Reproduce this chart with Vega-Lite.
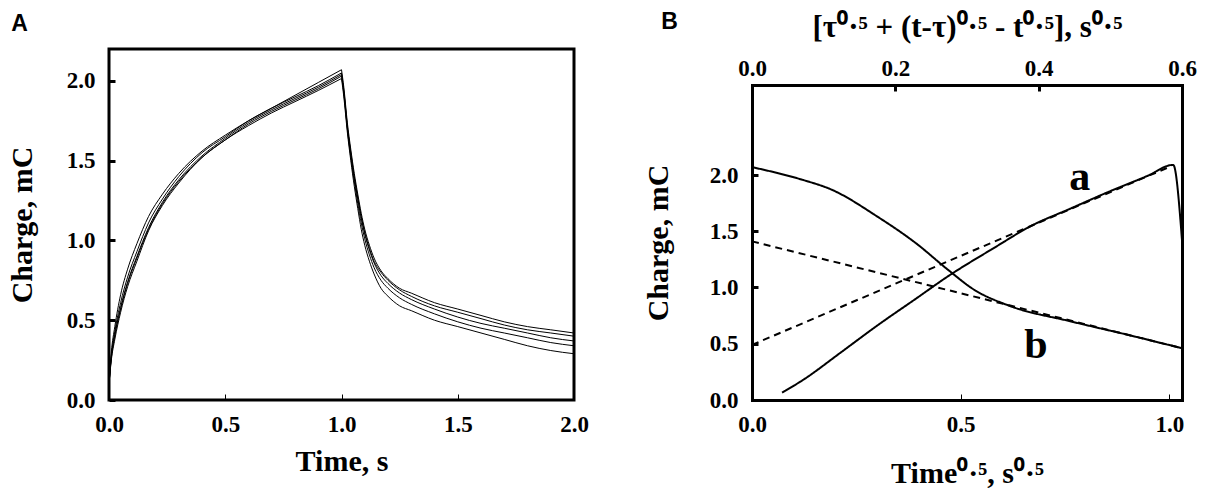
{
  "$schema": "https://vega.github.io/schema/vega-lite/v6.json",
  "background": "white",
  "padding": {"left": 5, "top": 11, "right": 5, "bottom": 5},
  "datasets": {
    "panelA": [
      {"t": 0, "q": 0.1, "run": 1, "ph": "up"}, {"t": 0.01, "q": 0.3, "run": 1, "ph": "up"}, {"t": 0.025, "q": 0.46, "run": 1, "ph": "up"},
      {"t": 0.05, "q": 0.66, "run": 1, "ph": "up"}, {"t": 0.08, "q": 0.82, "run": 1, "ph": "up"}, {"t": 0.12, "q": 0.98, "run": 1, "ph": "up"},
      {"t": 0.17, "q": 1.15, "run": 1, "ph": "up"}, {"t": 0.23, "q": 1.29, "run": 1, "ph": "up"}, {"t": 0.3, "q": 1.42, "run": 1, "ph": "up"},
      {"t": 0.4, "q": 1.56, "run": 1, "ph": "up"}, {"t": 0.5, "q": 1.66, "run": 1, "ph": "up"}, {"t": 0.6, "q": 1.75, "run": 1, "ph": "up"},
      {"t": 0.7, "q": 1.83, "run": 1, "ph": "up"}, {"t": 0.8, "q": 1.91, "run": 1, "ph": "up"}, {"t": 0.9, "q": 1.99, "run": 1, "ph": "up"},
      {"t": 1, "q": 2.07, "run": 1, "ph": "up"},
      {"t": 1, "q": 2.07, "run": 1, "ph": "dn"}, {"t": 1.01, "q": 1.96, "run": 1, "ph": "dn"}, {"t": 1.025, "q": 1.74, "run": 1, "ph": "dn"},
      {"t": 1.04, "q": 1.57, "run": 1, "ph": "dn"}, {"t": 1.055, "q": 1.42, "run": 1, "ph": "dn"}, {"t": 1.07, "q": 1.29, "run": 1, "ph": "dn"},
      {"t": 1.085, "q": 1.17, "run": 1, "ph": "dn"}, {"t": 1.1, "q": 1.07, "run": 1, "ph": "dn"}, {"t": 1.12, "q": 0.97, "run": 1, "ph": "dn"},
      {"t": 1.14, "q": 0.89, "run": 1, "ph": "dn"}, {"t": 1.17, "q": 0.81, "run": 1, "ph": "dn"}, {"t": 1.2, "q": 0.76, "run": 1, "ph": "dn"},
      {"t": 1.25, "q": 0.7, "run": 1, "ph": "dn"}, {"t": 1.3, "q": 0.67, "run": 1, "ph": "dn"}, {"t": 1.4, "q": 0.61, "run": 1, "ph": "dn"},
      {"t": 1.5, "q": 0.57, "run": 1, "ph": "dn"}, {"t": 1.6, "q": 0.53, "run": 1, "ph": "dn"}, {"t": 1.7, "q": 0.49, "run": 1, "ph": "dn"},
      {"t": 1.8, "q": 0.46, "run": 1, "ph": "dn"}, {"t": 1.9, "q": 0.44, "run": 1, "ph": "dn"}, {"t": 2, "q": 0.42, "run": 1, "ph": "dn"},

      {"t": 0, "q": 0.1, "run": 2, "ph": "up"}, {"t": 0.01, "q": 0.28, "run": 2, "ph": "up"}, {"t": 0.025, "q": 0.43, "run": 2, "ph": "up"},
      {"t": 0.05, "q": 0.61, "run": 2, "ph": "up"}, {"t": 0.08, "q": 0.77, "run": 2, "ph": "up"}, {"t": 0.12, "q": 0.93, "run": 2, "ph": "up"},
      {"t": 0.17, "q": 1.11, "run": 2, "ph": "up"}, {"t": 0.23, "q": 1.26, "run": 2, "ph": "up"}, {"t": 0.3, "q": 1.4, "run": 2, "ph": "up"},
      {"t": 0.4, "q": 1.55, "run": 2, "ph": "up"}, {"t": 0.5, "q": 1.65, "run": 2, "ph": "up"}, {"t": 0.6, "q": 1.75, "run": 2, "ph": "up"},
      {"t": 0.7, "q": 1.83, "run": 2, "ph": "up"}, {"t": 0.8, "q": 1.9, "run": 2, "ph": "up"}, {"t": 0.9, "q": 1.97, "run": 2, "ph": "up"},
      {"t": 1, "q": 2.05, "run": 2, "ph": "up"},
      {"t": 1, "q": 2.05, "run": 2, "ph": "dn"}, {"t": 1.01, "q": 1.94, "run": 2, "ph": "dn"}, {"t": 1.025, "q": 1.72, "run": 2, "ph": "dn"},
      {"t": 1.04, "q": 1.55, "run": 2, "ph": "dn"}, {"t": 1.055, "q": 1.4, "run": 2, "ph": "dn"}, {"t": 1.07, "q": 1.27, "run": 2, "ph": "dn"},
      {"t": 1.085, "q": 1.15, "run": 2, "ph": "dn"}, {"t": 1.1, "q": 1.05, "run": 2, "ph": "dn"}, {"t": 1.12, "q": 0.95, "run": 2, "ph": "dn"},
      {"t": 1.14, "q": 0.87, "run": 2, "ph": "dn"}, {"t": 1.17, "q": 0.8, "run": 2, "ph": "dn"}, {"t": 1.2, "q": 0.75, "run": 2, "ph": "dn"},
      {"t": 1.25, "q": 0.69, "run": 2, "ph": "dn"}, {"t": 1.3, "q": 0.65, "run": 2, "ph": "dn"}, {"t": 1.4, "q": 0.59, "run": 2, "ph": "dn"},
      {"t": 1.5, "q": 0.55, "run": 2, "ph": "dn"}, {"t": 1.6, "q": 0.51, "run": 2, "ph": "dn"}, {"t": 1.7, "q": 0.47, "run": 2, "ph": "dn"},
      {"t": 1.8, "q": 0.44, "run": 2, "ph": "dn"}, {"t": 1.9, "q": 0.42, "run": 2, "ph": "dn"}, {"t": 2, "q": 0.4, "run": 2, "ph": "dn"},

      {"t": 0, "q": 0.1, "run": 3, "ph": "up"}, {"t": 0.01, "q": 0.27, "run": 3, "ph": "up"}, {"t": 0.025, "q": 0.41, "run": 3, "ph": "up"},
      {"t": 0.05, "q": 0.58, "run": 3, "ph": "up"}, {"t": 0.08, "q": 0.74, "run": 3, "ph": "up"}, {"t": 0.12, "q": 0.9, "run": 3, "ph": "up"},
      {"t": 0.17, "q": 1.08, "run": 3, "ph": "up"}, {"t": 0.23, "q": 1.24, "run": 3, "ph": "up"}, {"t": 0.3, "q": 1.38, "run": 3, "ph": "up"},
      {"t": 0.4, "q": 1.53, "run": 3, "ph": "up"}, {"t": 0.5, "q": 1.64, "run": 3, "ph": "up"}, {"t": 0.6, "q": 1.74, "run": 3, "ph": "up"},
      {"t": 0.7, "q": 1.82, "run": 3, "ph": "up"}, {"t": 0.8, "q": 1.89, "run": 3, "ph": "up"}, {"t": 0.9, "q": 1.96, "run": 3, "ph": "up"},
      {"t": 1, "q": 2.04, "run": 3, "ph": "up"},
      {"t": 1, "q": 2.04, "run": 3, "ph": "dn"}, {"t": 1.01, "q": 1.93, "run": 3, "ph": "dn"}, {"t": 1.025, "q": 1.71, "run": 3, "ph": "dn"},
      {"t": 1.04, "q": 1.54, "run": 3, "ph": "dn"}, {"t": 1.055, "q": 1.39, "run": 3, "ph": "dn"}, {"t": 1.07, "q": 1.26, "run": 3, "ph": "dn"},
      {"t": 1.085, "q": 1.14, "run": 3, "ph": "dn"}, {"t": 1.1, "q": 1.04, "run": 3, "ph": "dn"}, {"t": 1.12, "q": 0.94, "run": 3, "ph": "dn"},
      {"t": 1.14, "q": 0.86, "run": 3, "ph": "dn"}, {"t": 1.17, "q": 0.78, "run": 3, "ph": "dn"}, {"t": 1.2, "q": 0.73, "run": 3, "ph": "dn"},
      {"t": 1.25, "q": 0.67, "run": 3, "ph": "dn"}, {"t": 1.3, "q": 0.63, "run": 3, "ph": "dn"}, {"t": 1.4, "q": 0.57, "run": 3, "ph": "dn"},
      {"t": 1.5, "q": 0.52, "run": 3, "ph": "dn"}, {"t": 1.6, "q": 0.48, "run": 3, "ph": "dn"}, {"t": 1.7, "q": 0.45, "run": 3, "ph": "dn"},
      {"t": 1.8, "q": 0.42, "run": 3, "ph": "dn"}, {"t": 1.9, "q": 0.39, "run": 3, "ph": "dn"}, {"t": 2, "q": 0.37, "run": 3, "ph": "dn"},

      {"t": 0, "q": 0.1, "run": 4, "ph": "up"}, {"t": 0.01, "q": 0.26, "run": 4, "ph": "up"}, {"t": 0.025, "q": 0.4, "run": 4, "ph": "up"},
      {"t": 0.05, "q": 0.57, "run": 4, "ph": "up"}, {"t": 0.08, "q": 0.73, "run": 4, "ph": "up"}, {"t": 0.12, "q": 0.89, "run": 4, "ph": "up"},
      {"t": 0.17, "q": 1.07, "run": 4, "ph": "up"}, {"t": 0.23, "q": 1.23, "run": 4, "ph": "up"}, {"t": 0.3, "q": 1.37, "run": 4, "ph": "up"},
      {"t": 0.4, "q": 1.52, "run": 4, "ph": "up"}, {"t": 0.5, "q": 1.63, "run": 4, "ph": "up"}, {"t": 0.6, "q": 1.73, "run": 4, "ph": "up"},
      {"t": 0.7, "q": 1.81, "run": 4, "ph": "up"}, {"t": 0.8, "q": 1.88, "run": 4, "ph": "up"}, {"t": 0.9, "q": 1.95, "run": 4, "ph": "up"},
      {"t": 1, "q": 2.03, "run": 4, "ph": "up"},
      {"t": 1, "q": 2.03, "run": 4, "ph": "dn"}, {"t": 1.01, "q": 1.92, "run": 4, "ph": "dn"}, {"t": 1.025, "q": 1.7, "run": 4, "ph": "dn"},
      {"t": 1.04, "q": 1.52, "run": 4, "ph": "dn"}, {"t": 1.055, "q": 1.37, "run": 4, "ph": "dn"}, {"t": 1.07, "q": 1.23, "run": 4, "ph": "dn"},
      {"t": 1.085, "q": 1.11, "run": 4, "ph": "dn"}, {"t": 1.1, "q": 1.01, "run": 4, "ph": "dn"}, {"t": 1.12, "q": 0.91, "run": 4, "ph": "dn"},
      {"t": 1.14, "q": 0.83, "run": 4, "ph": "dn"}, {"t": 1.17, "q": 0.75, "run": 4, "ph": "dn"}, {"t": 1.2, "q": 0.7, "run": 4, "ph": "dn"},
      {"t": 1.25, "q": 0.64, "run": 4, "ph": "dn"}, {"t": 1.3, "q": 0.6, "run": 4, "ph": "dn"}, {"t": 1.4, "q": 0.54, "run": 4, "ph": "dn"},
      {"t": 1.5, "q": 0.49, "run": 4, "ph": "dn"}, {"t": 1.6, "q": 0.45, "run": 4, "ph": "dn"}, {"t": 1.7, "q": 0.42, "run": 4, "ph": "dn"},
      {"t": 1.8, "q": 0.39, "run": 4, "ph": "dn"}, {"t": 1.9, "q": 0.36, "run": 4, "ph": "dn"}, {"t": 2, "q": 0.34, "run": 4, "ph": "dn"},

      {"t": 0, "q": 0.1, "run": 5, "ph": "up"}, {"t": 0.01, "q": 0.25, "run": 5, "ph": "up"}, {"t": 0.025, "q": 0.38, "run": 5, "ph": "up"},
      {"t": 0.05, "q": 0.55, "run": 5, "ph": "up"}, {"t": 0.08, "q": 0.71, "run": 5, "ph": "up"}, {"t": 0.12, "q": 0.87, "run": 5, "ph": "up"},
      {"t": 0.17, "q": 1.06, "run": 5, "ph": "up"}, {"t": 0.23, "q": 1.22, "run": 5, "ph": "up"}, {"t": 0.3, "q": 1.36, "run": 5, "ph": "up"},
      {"t": 0.4, "q": 1.52, "run": 5, "ph": "up"}, {"t": 0.5, "q": 1.63, "run": 5, "ph": "up"}, {"t": 0.6, "q": 1.72, "run": 5, "ph": "up"},
      {"t": 0.7, "q": 1.8, "run": 5, "ph": "up"}, {"t": 0.8, "q": 1.87, "run": 5, "ph": "up"}, {"t": 0.9, "q": 1.94, "run": 5, "ph": "up"},
      {"t": 1, "q": 2.015, "run": 5, "ph": "up"},
      {"t": 1, "q": 2.015, "run": 5, "ph": "dn"}, {"t": 1.01, "q": 1.9, "run": 5, "ph": "dn"}, {"t": 1.025, "q": 1.68, "run": 5, "ph": "dn"},
      {"t": 1.04, "q": 1.5, "run": 5, "ph": "dn"}, {"t": 1.055, "q": 1.34, "run": 5, "ph": "dn"}, {"t": 1.07, "q": 1.2, "run": 5, "ph": "dn"},
      {"t": 1.085, "q": 1.07, "run": 5, "ph": "dn"}, {"t": 1.1, "q": 0.97, "run": 5, "ph": "dn"}, {"t": 1.12, "q": 0.87, "run": 5, "ph": "dn"},
      {"t": 1.14, "q": 0.79, "run": 5, "ph": "dn"}, {"t": 1.17, "q": 0.7, "run": 5, "ph": "dn"}, {"t": 1.2, "q": 0.65, "run": 5, "ph": "dn"},
      {"t": 1.25, "q": 0.59, "run": 5, "ph": "dn"}, {"t": 1.3, "q": 0.56, "run": 5, "ph": "dn"}, {"t": 1.4, "q": 0.5, "run": 5, "ph": "dn"},
      {"t": 1.5, "q": 0.46, "run": 5, "ph": "dn"}, {"t": 1.6, "q": 0.42, "run": 5, "ph": "dn"}, {"t": 1.7, "q": 0.38, "run": 5, "ph": "dn"},
      {"t": 1.8, "q": 0.34, "run": 5, "ph": "dn"}, {"t": 1.9, "q": 0.31, "run": 5, "ph": "dn"}, {"t": 2, "q": 0.29, "run": 5, "ph": "dn"}
    ],
    "panelBsqrt": [
      {"rt": 0.072, "q": 0.065, "style": "solid"}, {"rt": 0.127, "q": 0.19, "style": "solid"}, {"rt": 0.21, "q": 0.415, "style": "solid"},
      {"rt": 0.302, "q": 0.667, "style": "solid"}, {"rt": 0.394, "q": 0.904, "style": "solid"}, {"rt": 0.468, "q": 1.096, "style": "solid"},
      {"rt": 0.578, "q": 1.348, "style": "solid"}, {"rt": 0.67, "q": 1.55, "style": "solid"}, {"rt": 0.762, "q": 1.7, "style": "solid"},
      {"rt": 0.854, "q": 1.85, "style": "solid"}, {"rt": 0.946, "q": 1.99, "style": "solid"}, {"rt": 1.009, "q": 2.09, "style": "solid"},
      {"rt": 1.03, "q": 1.42, "style": "solid"},
      {"rt": 0, "q": 0.49, "style": "dashed"}, {"rt": 1.005, "q": 2.08, "style": "dashed"}
    ],
    "panelBtop": [
      {"s": 0, "q": 2.07, "style": "solid"}, {"s": 0.069, "q": 1.96, "style": "solid"}, {"s": 0.111, "q": 1.87, "style": "solid"},
      {"s": 0.175, "q": 1.63, "style": "solid"}, {"s": 0.2295, "q": 1.39, "style": "solid"}, {"s": 0.273, "q": 1.16, "style": "solid"},
      {"s": 0.31, "q": 0.98, "style": "solid"}, {"s": 0.358, "q": 0.84, "style": "solid"}, {"s": 0.444, "q": 0.7, "style": "solid"},
      {"s": 0.524, "q": 0.58, "style": "solid"}, {"s": 0.6, "q": 0.46, "style": "solid"},
      {"s": 0, "q": 1.41, "style": "dashed"}, {"s": 0.6, "q": 0.46, "style": "dashed"}
    ],
    "labelsB": [
      {"rt": 0.785, "q": 1.98, "label": "a"},
      {"rt": 0.68, "q": 0.49, "label": "b"}
    ]
  },
  "concat": [
    {
      "title": {"text": "A", "offset": 13, "dx": 4},
      "width": 465,
      "height": 351,
      "data": {"name": "panelA"},
      "mark": {"type": "line", "color": "black", "strokeWidth": 1, "interpolate": "monotone"},
      "encoding": {
        "x": {"field": "t", "type": "quantitative", "scale": {"domain": [0, 2], "nice": false},
              "axis": {"title": "Time, s", "values": [0, 0.5, 1, 1.5, 2], "titlePadding": 10}},
        "y": {"field": "q", "type": "quantitative", "scale": {"domain": [0, 2.2], "nice": false},
              "axis": {"title": "Charge, mC", "values": [0, 0.5, 1, 1.5, 2], "titlePadding": 29}},
        "detail": [{"field": "run", "type": "nominal"}, {"field": "ph", "type": "nominal"}]
      }
    },
    {
      "title": {"text": "B", "dx": 18, "dy": 27},
      "width": 430,
      "height": 351,
      "view": {"stroke": null},
      "layer": [
        {
          "data": {"name": "panelBsqrt"},
          "mark": {"type": "line", "color": "black", "strokeWidth": 2, "interpolate": "monotone"},
          "encoding": {
            "x": {"field": "rt", "type": "quantitative", "scale": {"domain": [0, 1.03], "nice": false},
                  "axis": {"orient": "bottom", "title": "Time⁰·⁵, s⁰·⁵", "values": [0, 0.5, 1], "titlePadding": 22,
                           "domain": true, "domainWidth": 3, "domainColor": "black", "domainCap": "square"}},
            "y": {"field": "q", "type": "quantitative", "scale": {"domain": [0, 2.8], "range": [351, 36], "nice": false},
                  "axis": {"orient": "left", "title": "Charge, mC", "values": [0, 0.5, 1, 1.5, 2], "titlePadding": 36,
                           "domain": true, "domainWidth": 3, "domainColor": "black", "domainCap": "square"}},
            "strokeDash": {"field": "style", "type": "nominal",
                           "scale": {"domain": ["solid", "dashed"], "range": [[1, 0], [7, 5]]}, "legend": null}
          }
        },
        {
          "data": {"name": "labelsB"},
          "mark": {"type": "text", "font": "Liberation Serif", "fontWeight": "bold", "fontSize": 42, "color": "black", "baseline": "middle"},
          "encoding": {
            "x": {"field": "rt", "type": "quantitative", "scale": {"domain": [0, 1.03], "nice": false}, "axis": null},
            "y": {"field": "q", "type": "quantitative", "scale": {"domain": [0, 2.8], "range": [351, 36], "nice": false}, "axis": null},
            "text": {"field": "label"}
          }
        },
        {
          "data": {"name": "panelBtop"},
          "mark": {"type": "line", "color": "black", "strokeWidth": 2, "interpolate": "monotone"},
          "encoding": {
            "x": {"field": "s", "type": "quantitative", "scale": {"domain": [0, 0.6], "nice": false},
                  "axis": {"orient": "top", "offset": -36, "title": "[τ⁰·⁵ + (t-τ)⁰·⁵ - t⁰·⁵], s⁰·⁵", "values": [0, 0.2, 0.4, 0.6],
                           "tickWidth": 3, "labelPadding": 11, "titlePadding": 14, "titleFontSize": 31,
                           "domain": true, "domainWidth": 3, "domainColor": "black", "domainCap": "square"}},
            "y": {"field": "q", "type": "quantitative", "scale": {"domain": [0, 2.8], "range": [351, 36], "nice": false},
                  "axis": {"orient": "right", "title": null, "labels": false, "ticks": false,
                           "domain": true, "domainWidth": 3, "domainColor": "black", "domainCap": "square"}},
            "strokeDash": {"field": "style", "type": "nominal",
                           "scale": {"domain": ["solid", "dashed"], "range": [[1, 0], [7, 5]]}, "legend": null}
          }
        }
      ],
      "resolve": {"scale": {"x": "independent"}, "axis": {"x": "independent", "y": "independent"}}
    }
  ],
  "columns": 2,
  "align": "none",
  "spacing": 53,
  "config": {
    "view": {"stroke": "black", "strokeWidth": 3},
    "axis": {
      "domain": false, "grid": false,
      "labelFont": "Liberation Serif", "labelFontWeight": "bold", "labelFontSize": 23, "labelColor": "black",
      "titleFont": "Liberation Serif", "titleFontWeight": "bold", "titleFontSize": 30, "titleColor": "black",
      "tickColor": "black", "tickSize": -6, "format": ".1f", "labelFlush": false, "labelOverlap": false
    },
    "axisY": {"tickWidth": 3, "labelPadding": 20},
    "axisX": {"tickWidth": 1, "labelPadding": 19},
    "title": {"font": "Liberation Sans", "fontWeight": "bold", "fontSize": 23, "anchor": "start", "frame": "bounds", "color": "black"}
  }
}
